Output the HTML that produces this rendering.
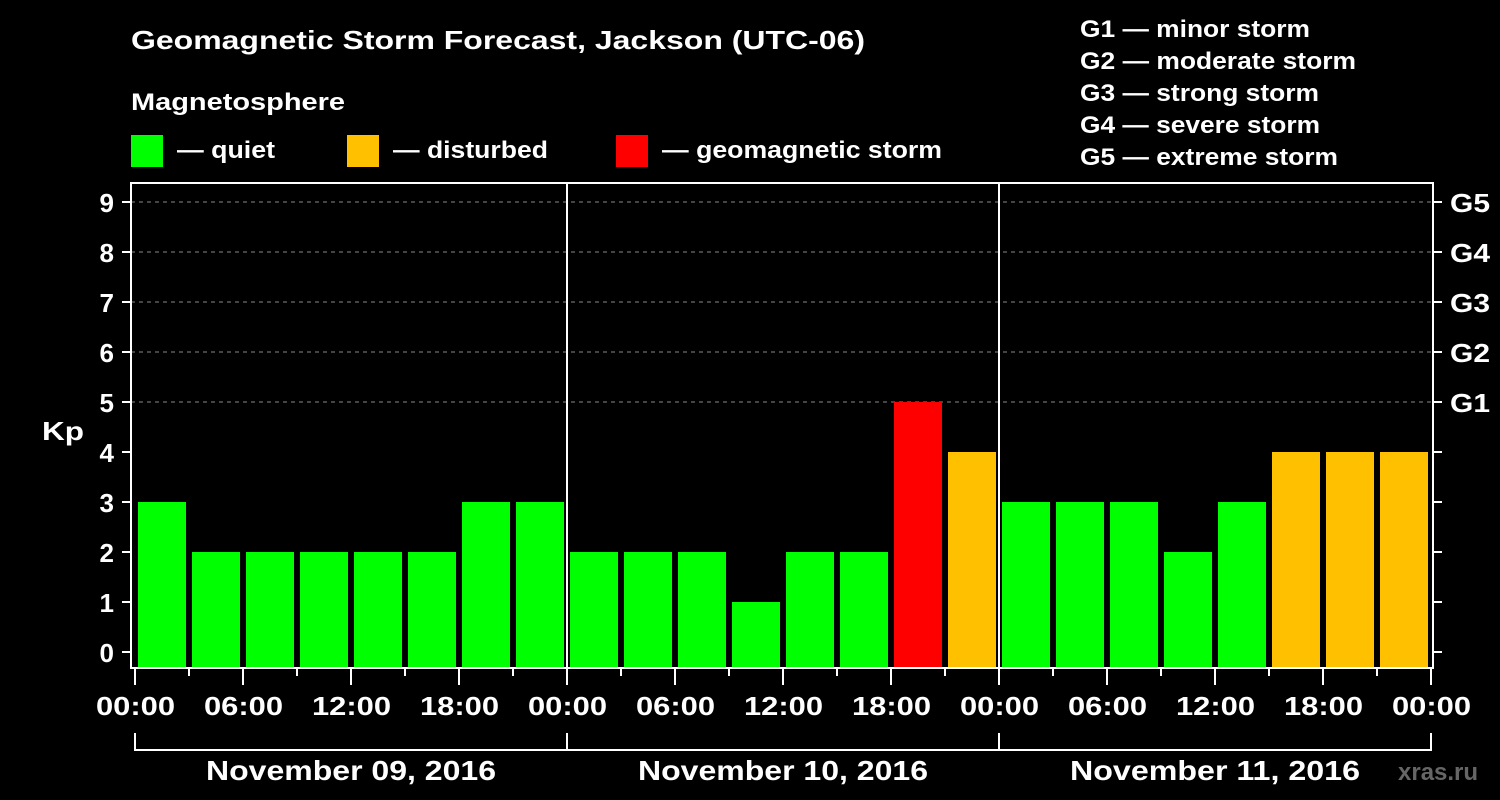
<!DOCTYPE html>
<html><head><meta charset="utf-8"><style>
body{margin:0;background:#000;width:1500px;height:800px;overflow:hidden}
svg{display:block;font-family:"Liberation Sans",Arial,sans-serif;font-weight:bold;fill:#fff}
</style></head><body>
<svg id="c" width="1500" height="800">
<text x="131" y="49" font-size="26" textLength="734" lengthAdjust="spacingAndGlyphs">Geomagnetic Storm Forecast, Jackson (UTC-06)</text>
<text x="131" y="110" font-size="24" textLength="214" lengthAdjust="spacingAndGlyphs">Magnetosphere</text>
<g><rect x="131" y="135" width="32" height="32" fill="#00ff00"/><text x="177" y="158" font-size="24" textLength="98" lengthAdjust="spacingAndGlyphs">— quiet</text></g>
<g><rect x="347" y="135" width="32" height="32" fill="#ffc000"/><text x="393" y="158" font-size="24" textLength="155" lengthAdjust="spacingAndGlyphs">— disturbed</text></g>
<g><rect x="616" y="135" width="32" height="32" fill="#ff0000"/><text x="662" y="158" font-size="24" textLength="280" lengthAdjust="spacingAndGlyphs">— geomagnetic storm</text></g>
<g font-size="24">
<text x="1080" y="37" textLength="230" lengthAdjust="spacingAndGlyphs">G1 — minor storm</text>
<text x="1080" y="69" textLength="276" lengthAdjust="spacingAndGlyphs">G2 — moderate storm</text>
<text x="1080" y="101" textLength="239" lengthAdjust="spacingAndGlyphs">G3 — strong storm</text>
<text x="1080" y="133" textLength="240" lengthAdjust="spacingAndGlyphs">G4 — severe storm</text>
<text x="1080" y="165" textLength="258" lengthAdjust="spacingAndGlyphs">G5 — extreme storm</text></g>
<text x="42" y="440" font-size="26" textLength="42" lengthAdjust="spacingAndGlyphs">Kp</text>
<g id="grid"></g><g id="bars"></g><g id="axes"></g>
<text x="1398" y="780" font-size="24" style="fill:#666">xras.ru</text>
</svg>
<script>
const values=[3,2,2,2,2,2,3,3,2,2,2,1,2,2,5,4,3,3,3,2,3,4,4,4];
const kpTicks=[0,1,2,3,4,5,6,7,8,9];
const gLabels=["G1","G2","G3","G4","G5"];
const dayLabels=["November 09, 2016","November 10, 2016","November 11, 2016"];
const hourLabels=["00:00","06:00","12:00","18:00"];
const NS="http://www.w3.org/2000/svg";
const x0=135,slot=54,yz=652,unit=50,pBottom=668,pTop=183,pLeft=131,pRight=1433;
const X=i=>x0+i*slot, Y=v=>yz-v*unit;
function mk(t,a,p,txt){const e=document.createElementNS(NS,t);for(const k in a)e.setAttribute(k,a[k]);if(txt!=null)e.textContent=txt;document.getElementById(p).appendChild(e);return e;}
for(let g=0;g<gLabels.length;g++){const v=5+g;
 const l=mk('line',{x1:pLeft,x2:pRight,y1:Y(v),y2:Y(v),stroke:'#888','stroke-dasharray':'4,4','stroke-width':1},'grid');
 
 
 const t=mk('text',{x:1450,y:Y(v)+10,'font-size':26,textLength:40,lengthAdjust:'spacingAndGlyphs'},'axes',gLabels[g]);
 
 }
values.forEach((v,i)=>{const col=v>=5?'#ff0000':v>=4?'#ffc000':'#00ff00';
 const r=mk('rect',{x:X(i)+3,y:Y(v),width:48,height:pBottom-Y(v),fill:col},'bars');
 
 });
const f=mk('rect',{x:pLeft,y:pTop,width:pRight-pLeft,height:pBottom-pTop,fill:'none',stroke:'#fff','stroke-width':2},'axes');


kpTicks.forEach(v=>{mk('line',{x1:122,x2:pLeft,y1:Y(v),y2:Y(v),stroke:'#fff','stroke-width':2},'axes');
 mk('line',{x1:pRight,x2:1442,y1:Y(v),y2:Y(v),stroke:'#fff','stroke-width':2},'axes');
 const t=mk('text',{x:114,y:Y(v)+10,'font-size':26,'text-anchor':'end'},'axes',String(v));
 
 });
for(let d=1;d<dayLabels.length;d++){mk('line',{x1:X(d*8),x2:X(d*8),y1:pTop,y2:pBottom,stroke:'#fff','stroke-width':2},'axes');}
for(let i=0;i<=24;i++){const maj=i%2==0;
 mk('line',{x1:X(i),x2:X(i),y1:pBottom,y2:maj?685:676,stroke:'#fff','stroke-width':2},'axes');
 if(maj){const t=mk('text',{x:X(i)-39,y:715,'font-size':26,textLength:79,lengthAdjust:'spacingAndGlyphs'},'axes',hourLabels[(i/2)%4]);
 
 }}
dayLabels.forEach((s,d)=>{const a=X(d*8),b=X(d*8+8);
 mk('path',{d:`M${a} 733V750H${b}V733`,stroke:'#fff','stroke-width':2,fill:'none'},'axes');
 const t=mk('text',{x:(a+b)/2-145,y:780,'font-size':28,textLength:290,lengthAdjust:'spacingAndGlyphs'},'axes',s);
 
 });
</script></body></html>
